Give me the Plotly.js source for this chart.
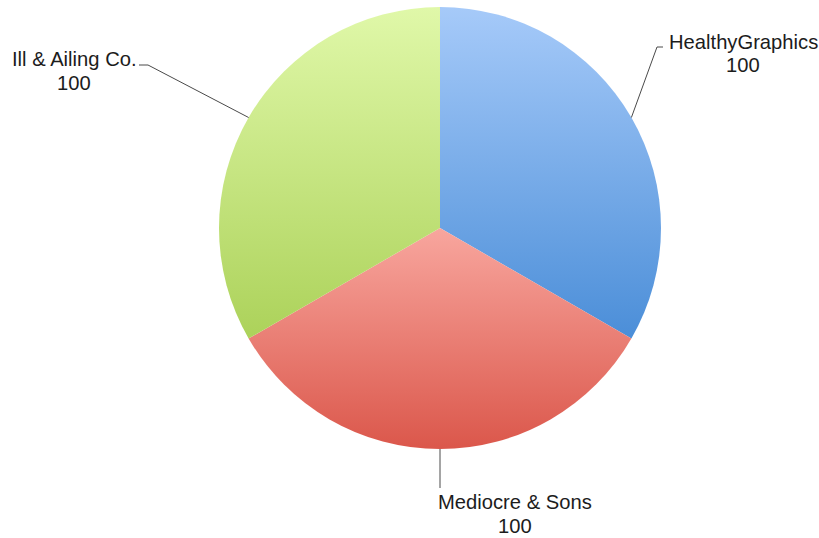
<!DOCTYPE html>
<html>
<head>
<meta charset="utf-8">
<script src="https://cdn.plot.ly/plotly-3.0.1.min.js"></script>
<style>html,body{margin:0;padding:0;background:#fff;}#chart{width:819px;height:538px;}</style>
</head>
<body>
<div id="chart"></div>
<script>
// ---- data ----
var labels = ["HealthyGraphics", "Mediocre & Sons", "Ill & Ailing Co."];
var values = [100, 100, 100];
var gradTop = ["#a6caf9", "#f8a69e", "#e0f8a9"];
var gradBottom = ["#4b8ed8", "#db574b", "#acd25a"];

// ---- layout constants (pixels) ----
var W = 819, H = 538;
var cx = 440, cy = 228, R = 221;
// elbow point, end of horizontal tick, text centre (x, first line y) for each label
var elbows = [[657, 47], [440, 488], [148, 65]];
var tickEnds = [[663, 47], [440, 488], [139, 65]];
var textCentre = [[743, 42], [515, 502], [74, 59]];
var lineGap = 23.5;
var fontSize = 20.2;

function px(x) { return x / W; }
function py(y) { return 1 - y / H; }

var total = values.reduce(function (a, b) { return a + b; }, 0);
var shapes = [], annotations = [];
var cum = 0;
var fnt = {family: "Liberation Sans, Arial, sans-serif", size: fontSize, color: "#1c1c1c"};
for (var i = 0; i < values.length; i++) {
  var mid = (cum + values[i] / 2) / total * 2 * Math.PI; // clockwise from 12 o'clock
  cum += values[i];
  var ex = cx + R * Math.sin(mid), ey = cy - R * Math.cos(mid);
  var pathStr = "M " + px(ex) + " " + py(ey) + " L " + px(elbows[i][0]) + " " + py(elbows[i][1]) +
                " L " + px(tickEnds[i][0]) + " " + py(tickEnds[i][1]);
  shapes.push({type: "path", xref: "paper", yref: "paper", path: pathStr,
               line: {color: "#4a4a4a", width: 1}});
  annotations.push({xref: "paper", yref: "paper", x: px(textCentre[i][0]), y: py(textCentre[i][1]),
                    xanchor: "center", yanchor: "middle", showarrow: false,
                    text: labels[i], font: fnt});
  annotations.push({xref: "paper", yref: "paper", x: px(textCentre[i][0]), y: py(textCentre[i][1] + lineGap),
                    xanchor: "center", yanchor: "middle", showarrow: false,
                    text: String(values[i]), font: fnt});
}

var trace = {
  type: "pie",
  labels: labels,
  values: values,
  sort: false,
  direction: "clockwise",
  rotation: 0,
  textinfo: "none",
  hoverinfo: "label+value",
  marker: {colors: gradBottom, line: {width: 0}},
  domain: {x: [px(cx - R), px(cx + R)], y: [py(cy + R), py(cy - R)]},
  showlegend: false
};

var layout = {
  width: W, height: H,
  margin: {l: 0, r: 0, t: 0, b: 0},
  paper_bgcolor: "#ffffff",
  showlegend: false,
  shapes: shapes,
  annotations: annotations
};

Plotly.newPlot("chart", [trace], layout, {displayModeBar: false, staticPlot: true}).then(function (gd) {
  var svg = gd.querySelector("svg.main-svg");
  var defs = svg.querySelector("defs");
  var ns = "http://www.w3.org/2000/svg";
  for (var i = 0; i < values.length; i++) {
    var g = document.createElementNS(ns, "linearGradient");
    g.setAttribute("id", "sliceGrad" + i);
    g.setAttribute("x1", "0"); g.setAttribute("y1", "0");
    g.setAttribute("x2", "0"); g.setAttribute("y2", "1");
    var s1 = document.createElementNS(ns, "stop");
    s1.setAttribute("offset", "0"); s1.setAttribute("stop-color", gradTop[i]);
    var s2 = document.createElementNS(ns, "stop");
    s2.setAttribute("offset", "1"); s2.setAttribute("stop-color", gradBottom[i]);
    g.appendChild(s1); g.appendChild(s2);
    defs.appendChild(g);
  }
  var paths = gd.querySelectorAll(".pielayer .slice path.surface");
  paths.forEach(function (p, i) {
    p.style.fill = "url(#sliceGrad" + i + ")";
  });
});
</script>
</body>
</html>
